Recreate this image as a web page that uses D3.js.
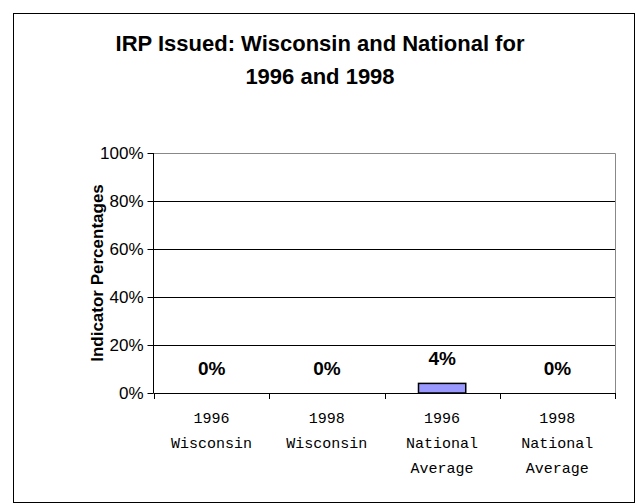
<!DOCTYPE html>
<html>
<head>
<meta charset="utf-8">
<style>
  body {margin: 0; background: #fff;}
  svg {display: block;}
</style>
</head>
<body>
<script src="https://cdn.jsdelivr.net/npm/d3@7"></script>
<script>
  // chart data
  var categories = ["1996 Wisconsin", "1998 Wisconsin", "1996 National Average", "1998 National Average"];
  var catLines = [["1996", "Wisconsin"], ["1998", "Wisconsin"], ["1996", "National", "Average"], ["1998", "National", "Average"]];
  var values = [0, 0, 4, 0];
  var yTicks = [0, 20, 40, 60, 80, 100];

  var width = 638, height = 504;
  var plot = {left: 154, right: 615, top: 153, bottom: 393};

  var svg = d3.select("body").append("svg")
      .attr("width", width)
      .attr("height", height);

  // outer frame
  svg.append("rect")
      .attr("x", 13.5).attr("y", 13.5)
      .attr("width", 621).attr("height", 489)
      .attr("fill", "#fff").attr("stroke", "#000").attr("stroke-width", 1);

  // title
  var title = svg.append("text")
      .attr("text-anchor", "middle")
      .style("font-family", "'Liberation Sans', Arial, sans-serif")
      .style("font-weight", "bold")
      .style("font-size", "22px");
  title.append("tspan").attr("x", 320).attr("y", 51).text("IRP Issued: Wisconsin and National for");
  title.append("tspan").attr("x", 320).attr("y", 84).text("1996 and 1998");

  var x = d3.scaleBand()
      .domain(categories)
      .range([plot.left, plot.right])
      .paddingInner(0.59)
      .paddingOuter(0.295);

  var y = d3.scaleLinear().domain([0, 100]).range([plot.bottom, plot.top]);

  // gridlines
  svg.append("g").selectAll("line")
      .data(yTicks.filter(function (d) { return d > 0 && d < 100; }))
      .enter().append("line")
      .attr("x1", plot.left).attr("x2", plot.right)
      .attr("y1", function (d) { return Math.round(y(d)) + 0.5; })
      .attr("y2", function (d) { return Math.round(y(d)) + 0.5; })
      .attr("stroke", "#000");

  // plot area top/right edges
  svg.append("path")
      .attr("d", "M" + plot.left + "," + (plot.top + 0.5) + "H" + (plot.right + 0.5) + "V" + plot.bottom)
      .attr("fill", "none").attr("stroke", "#888");

  // bars
  svg.append("g").selectAll("rect")
      .data(values)
      .enter().append("rect")
      .attr("x", function (d, i) { return x(categories[i]); })
      .attr("y", function (d) { return y(d); })
      .attr("width", x.bandwidth())
      .attr("height", function (d) { return plot.bottom - y(d); })
      .attr("fill", "#9999ff")
      .attr("stroke", "#000")
      .attr("stroke-width", 1.5)
      .style("display", function (d) { return d > 0 ? null : "none"; });

  // value labels
  svg.append("g").selectAll("text")
      .data(values)
      .enter().append("text")
      .attr("x", function (d, i) { return x(categories[i]) + x.bandwidth() / 2; })
      .attr("y", function (d) { return y(d) - 18; })
      .attr("text-anchor", "middle")
      .style("font-family", "'Liberation Sans', Arial, sans-serif")
      .style("font-weight", "bold")
      .style("font-size", "19px")
      .text(function (d) { return d + "%"; });

  // y axis
  var yAxis = d3.axisLeft(y).tickValues(yTicks).tickSize(6).tickPadding(4)
      .tickFormat(function (d) { return d + "%"; });
  var gy = svg.append("g")
      .attr("transform", "translate(" + (plot.left - 0.5) + ",0)")
      .call(yAxis);
  gy.select(".domain").attr("stroke", "#000").attr("d", "M0," + plot.top + "V" + (plot.bottom + 0.5));
  gy.selectAll(".tick line").attr("stroke", "#000");
  gy.selectAll(".tick text")
      .attr("fill", "#000")
      .style("font-family", "'Liberation Sans', Arial, sans-serif")
      .style("font-size", "17px");

  // x axis: boundary ticks
  var bounds = categories.map(function (c) { return x(c) - x.step() * x.paddingInner() / 2; });
  bounds.push(plot.right);
  svg.append("line")
      .attr("x1", plot.left).attr("x2", plot.right)
      .attr("y1", plot.bottom + 0.5).attr("y2", plot.bottom + 0.5)
      .attr("stroke", "#000");
  svg.append("g").selectAll("line")
      .data(bounds)
      .enter().append("line")
      .attr("x1", function (d) { return Math.round(d) + 0.5; })
      .attr("x2", function (d) { return Math.round(d) + 0.5; })
      .attr("y1", plot.bottom).attr("y2", plot.bottom + 6)
      .attr("stroke", "#000");

  // x tick labels
  var xl = svg.append("g").selectAll("text")
      .data(catLines)
      .enter().append("text")
      .attr("text-anchor", "middle")
      .style("font-family", "'Liberation Mono', 'Courier New', monospace")
      .style("font-size", "15px")
      .attr("fill", "#000");
  xl.each(function (lines, i) {
    var t = d3.select(this);
    lines.forEach(function (s, j) {
      t.append("tspan")
          .attr("x", x(categories[i]) + x.bandwidth() / 2)
          .attr("y", 423 + j * 25)
          .text(s);
    });
  });

  // y axis label
  svg.append("text")
      .attr("transform", "translate(103," + ((plot.top + plot.bottom) / 2) + ") rotate(-90)")
      .attr("text-anchor", "middle")
      .style("font-family", "'Liberation Sans', Arial, sans-serif")
      .style("font-weight", "bold")
      .style("font-size", "17px")
      .text("Indicator Percentages");
</script>
</body>
</html>
